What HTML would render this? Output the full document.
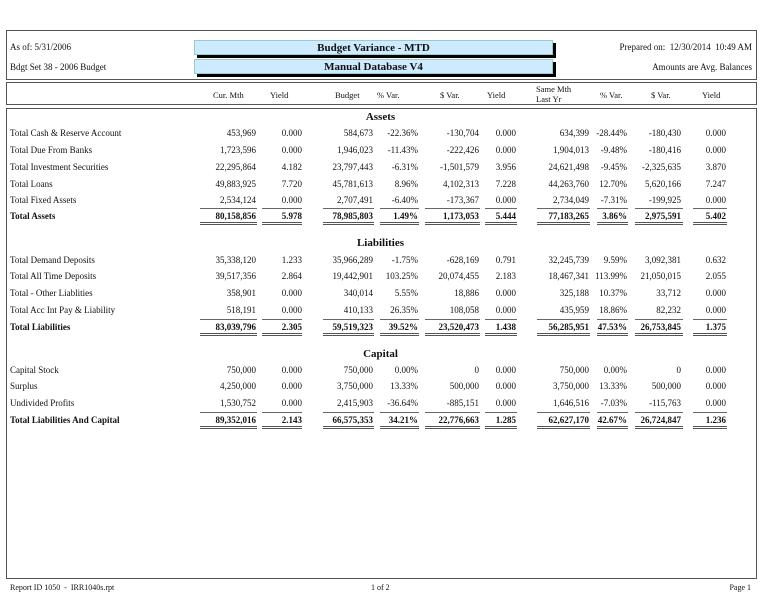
<!DOCTYPE html>
<html><head><meta charset="utf-8"><style>
*{margin:0;padding:0;box-sizing:border-box}
body{width:761px;height:595px;background:#fff;position:relative;overflow:hidden;font-family:"Liberation Serif",serif;font-size:9px;color:#111}
.a{position:absolute;white-space:nowrap;line-height:12px}
.box{position:absolute;border:1.5px solid #555;left:6px;width:751px}
.cy{position:absolute;left:194px;width:359px;height:15px;background:#cdeaff;border:1px solid #9cc;box-shadow:3px 3px 0 #000;text-align:center;font-weight:bold;font-size:11px;line-height:14px}
.r{position:absolute;left:0;width:761px;height:12px}
.r span{position:absolute;line-height:12px;white-space:nowrap;top:0}
.r .l{left:10px}
.c1{right:505px}.c2{right:459px}.c3{right:388px}.c4{right:343px}.c5{right:282px}.c6{right:245px}.c7{right:172px}.c8{right:134px}.c9{right:80px}.c10{right:35px}
.b span{font-weight:bold}
.sec{position:absolute;left:0;width:761px;text-align:center;font-weight:bold;font-size:11px;line-height:14px}
.ln{position:absolute;left:0;width:761px;height:17px}
.ln i{position:absolute;top:0;height:17px;border-top:1.5px solid #666;border-bottom:3px double #555}
.h{position:absolute;line-height:10px;font-size:8.5px}
</style></head><body>
<div class="box" style="top:30px;height:50px"></div>
<div class="box" style="top:82px;height:23px"></div>
<div class="box" style="top:108px;height:471px"></div>
<div class="a" style="left:10px;top:41px">As of: 5/31/2006</div>
<div class="a" style="left:10px;top:61px">Bdgt Set 38 - 2006 Budget</div>
<div class="cy" style="top:40px">Budget Variance - MTD</div>
<div class="cy" style="top:59px">Manual Database V4</div>
<div class="a" style="right:9px;top:41px">Prepared on:&nbsp; 12/30/2014&nbsp; 10:49 AM</div>
<div class="a" style="right:9px;top:61px">Amounts are Avg. Balances</div>

<div class="h" style="left:213px;top:90px">Cur. Mth</div>
<div class="h" style="left:270px;top:90px">Yield</div>
<div class="h" style="left:335px;top:90px">Budget</div>
<div class="h" style="left:377px;top:90px">% Var.</div>
<div class="h" style="left:440px;top:90px">$ Var.</div>
<div class="h" style="left:487px;top:90px">Yield</div>
<div class="h" style="left:536px;top:84px">Same Mth<br>Last Yr</div>
<div class="h" style="left:600px;top:90px">% Var.</div>
<div class="h" style="left:651px;top:90px">$ Var.</div>
<div class="h" style="left:702px;top:90px">Yield</div>

<div class="sec" style="top:110px">Assets</div>
<div class="r" style="top:127px"><span class="l">Total Cash &amp; Reserve Account</span><span class="c1">453,969</span><span class="c2">0.000</span><span class="c3">584,673</span><span class="c4">-22.36%</span><span class="c5">-130,704</span><span class="c6">0.000</span><span class="c7">634,399</span><span class="c8">-28.44%</span><span class="c9">-180,430</span><span class="c10">0.000</span></div>
<div class="r" style="top:144px"><span class="l">Total Due From Banks</span><span class="c1">1,723,596</span><span class="c2">0.000</span><span class="c3">1,946,023</span><span class="c4">-11.43%</span><span class="c5">-222,426</span><span class="c6">0.000</span><span class="c7">1,904,013</span><span class="c8">-9.48%</span><span class="c9">-180,416</span><span class="c10">0.000</span></div>
<div class="r" style="top:161px"><span class="l">Total Investment Securities</span><span class="c1">22,295,864</span><span class="c2">4.182</span><span class="c3">23,797,443</span><span class="c4">-6.31%</span><span class="c5">-1,501,579</span><span class="c6">3.956</span><span class="c7">24,621,498</span><span class="c8">-9.45%</span><span class="c9">-2,325,635</span><span class="c10">3.870</span></div>
<div class="r" style="top:178px"><span class="l">Total Loans</span><span class="c1">49,883,925</span><span class="c2">7.720</span><span class="c3">45,781,613</span><span class="c4">8.96%</span><span class="c5">4,102,313</span><span class="c6">7.228</span><span class="c7">44,263,760</span><span class="c8">12.70%</span><span class="c9">5,620,166</span><span class="c10">7.247</span></div>
<div class="r" style="top:194px"><span class="l">Total Fixed Assets</span><span class="c1">2,534,124</span><span class="c2">0.000</span><span class="c3">2,707,491</span><span class="c4">-6.40%</span><span class="c5">-173,367</span><span class="c6">0.000</span><span class="c7">2,734,049</span><span class="c8">-7.31%</span><span class="c9">-199,925</span><span class="c10">0.000</span></div>
<div class="ln" style="top:208px"><i style="left:200px;width:57px"></i><i style="left:262px;width:40px"></i><i style="left:323px;width:51px"></i><i style="left:380px;width:39px"></i><i style="left:425px;width:55px"></i><i style="left:485px;width:32px"></i><i style="left:537px;width:53px"></i><i style="left:597px;width:31px"></i><i style="left:635px;width:48px"></i><i style="left:693px;width:34px"></i></div>
<div class="r b" style="top:210px"><span class="l">Total Assets</span><span class="c1">80,158,856</span><span class="c2">5.978</span><span class="c3">78,985,803</span><span class="c4">1.49%</span><span class="c5">1,173,053</span><span class="c6">5.444</span><span class="c7">77,183,265</span><span class="c8">3.86%</span><span class="c9">2,975,591</span><span class="c10">5.402</span></div>

<div class="sec" style="top:236px">Liabilities</div>
<div class="r" style="top:254px"><span class="l">Total Demand Deposits</span><span class="c1">35,338,120</span><span class="c2">1.233</span><span class="c3">35,966,289</span><span class="c4">-1.75%</span><span class="c5">-628,169</span><span class="c6">0.791</span><span class="c7">32,245,739</span><span class="c8">9.59%</span><span class="c9">3,092,381</span><span class="c10">0.632</span></div>
<div class="r" style="top:270px"><span class="l">Total All Time Deposits</span><span class="c1">39,517,356</span><span class="c2">2.864</span><span class="c3">19,442,901</span><span class="c4">103.25%</span><span class="c5">20,074,455</span><span class="c6">2.183</span><span class="c7">18,467,341</span><span class="c8">113.99%</span><span class="c9">21,050,015</span><span class="c10">2.055</span></div>
<div class="r" style="top:287px"><span class="l">Total - Other Liablities</span><span class="c1">358,901</span><span class="c2">0.000</span><span class="c3">340,014</span><span class="c4">5.55%</span><span class="c5">18,886</span><span class="c6">0.000</span><span class="c7">325,188</span><span class="c8">10.37%</span><span class="c9">33,712</span><span class="c10">0.000</span></div>
<div class="r" style="top:304px"><span class="l">Total Acc Int Pay &amp; Liability</span><span class="c1">518,191</span><span class="c2">0.000</span><span class="c3">410,133</span><span class="c4">26.35%</span><span class="c5">108,058</span><span class="c6">0.000</span><span class="c7">435,959</span><span class="c8">18.86%</span><span class="c9">82,232</span><span class="c10">0.000</span></div>
<div class="ln" style="top:319px"><i style="left:200px;width:57px"></i><i style="left:262px;width:40px"></i><i style="left:323px;width:51px"></i><i style="left:380px;width:39px"></i><i style="left:425px;width:55px"></i><i style="left:485px;width:32px"></i><i style="left:537px;width:53px"></i><i style="left:597px;width:31px"></i><i style="left:635px;width:48px"></i><i style="left:693px;width:34px"></i></div>
<div class="r b" style="top:321px"><span class="l">Total Liabilities</span><span class="c1">83,039,796</span><span class="c2">2.305</span><span class="c3">59,519,323</span><span class="c4">39.52%</span><span class="c5">23,520,473</span><span class="c6">1.438</span><span class="c7">56,285,951</span><span class="c8">47.53%</span><span class="c9">26,753,845</span><span class="c10">1.375</span></div>

<div class="sec" style="top:347px">Capital</div>
<div class="r" style="top:364px"><span class="l">Capital Stock</span><span class="c1">750,000</span><span class="c2">0.000</span><span class="c3">750,000</span><span class="c4">0.00%</span><span class="c5">0</span><span class="c6">0.000</span><span class="c7">750,000</span><span class="c8">0.00%</span><span class="c9">0</span><span class="c10">0.000</span></div>
<div class="r" style="top:380px"><span class="l">Surplus</span><span class="c1">4,250,000</span><span class="c2">0.000</span><span class="c3">3,750,000</span><span class="c4">13.33%</span><span class="c5">500,000</span><span class="c6">0.000</span><span class="c7">3,750,000</span><span class="c8">13.33%</span><span class="c9">500,000</span><span class="c10">0.000</span></div>
<div class="r" style="top:397px"><span class="l">Undivided Profits</span><span class="c1">1,530,752</span><span class="c2">0.000</span><span class="c3">2,415,903</span><span class="c4">-36.64%</span><span class="c5">-885,151</span><span class="c6">0.000</span><span class="c7">1,646,516</span><span class="c8">-7.03%</span><span class="c9">-115,763</span><span class="c10">0.000</span></div>
<div class="ln" style="top:412px"><i style="left:200px;width:57px"></i><i style="left:262px;width:40px"></i><i style="left:323px;width:51px"></i><i style="left:380px;width:39px"></i><i style="left:425px;width:55px"></i><i style="left:485px;width:32px"></i><i style="left:537px;width:53px"></i><i style="left:597px;width:31px"></i><i style="left:635px;width:48px"></i><i style="left:693px;width:34px"></i></div>
<div class="r b" style="top:414px"><span class="l">Total Liabilities And Capital</span><span class="c1">89,352,016</span><span class="c2">2.143</span><span class="c3">66,575,353</span><span class="c4">34.21%</span><span class="c5">22,776,663</span><span class="c6">1.285</span><span class="c7">62,627,170</span><span class="c8">42.67%</span><span class="c9">26,724,847</span><span class="c10">1.236</span></div>

<div class="a" style="left:10px;top:582px;font-size:8px">Report ID 1050&nbsp; -&nbsp; IRR1040s.rpt</div>
<div class="a" style="left:371px;top:582px;font-size:8px">1 of 2</div>
<div class="a" style="right:10px;top:582px;font-size:8px">Page 1</div>
</body></html>
